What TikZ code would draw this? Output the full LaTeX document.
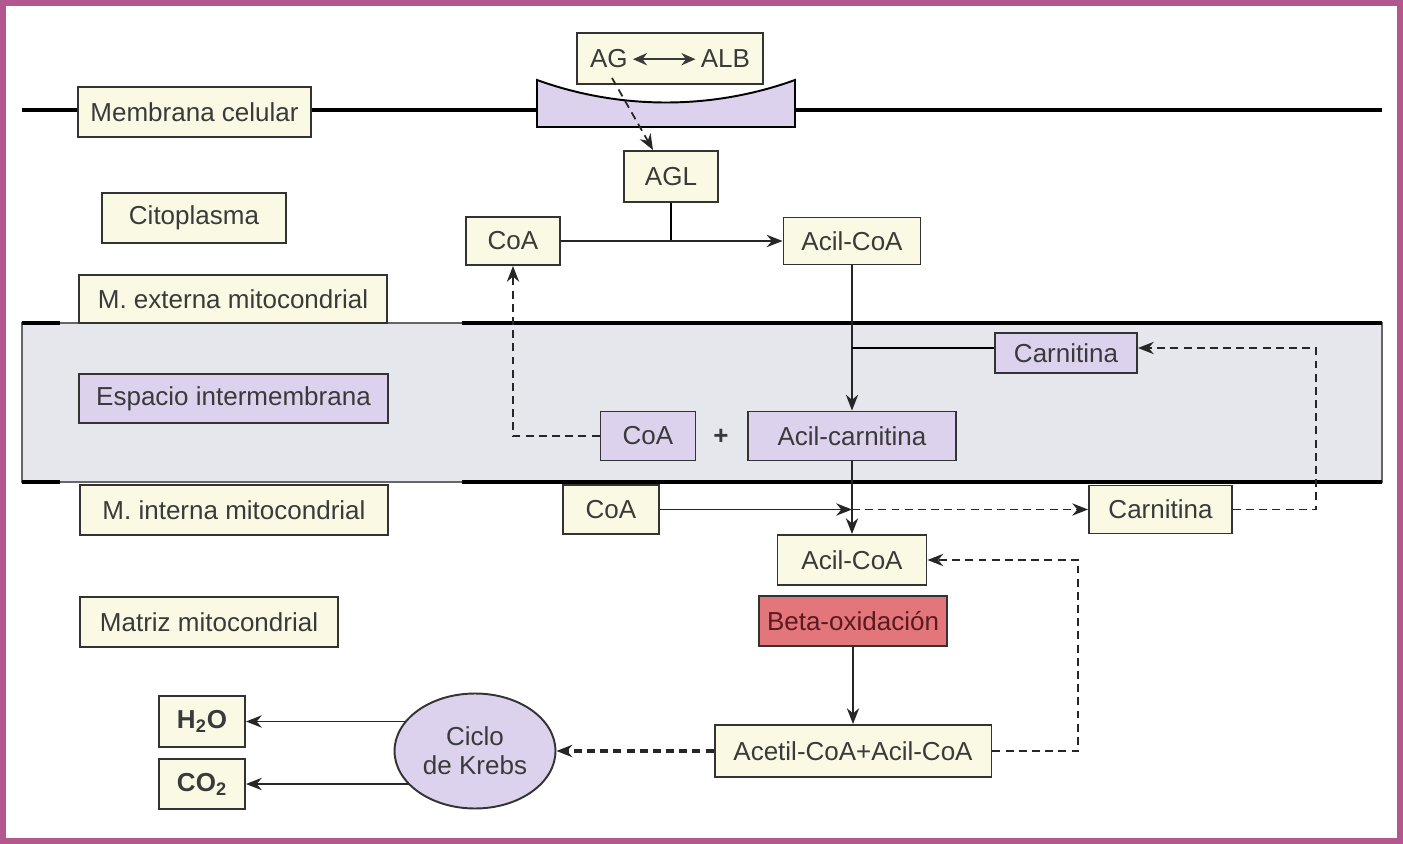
\documentclass[tikz,border=0pt]{standalone}
\usepackage{fontspec}
\setmainfont{Liberation Sans}
\usepackage{tikz}
\usetikzlibrary{calc,arrows.meta,shapes.geometric}
\definecolor{crema}{RGB}{250,250,228}
\definecolor{lila}{RGB}{220,210,238}
\definecolor{banda}{RGB}{229,231,236}
\definecolor{rojizo}{RGB}{226,118,122}
\definecolor{rojooscuro}{RGB}{90,26,32}
\definecolor{marco}{RGB}{178,88,142}
\definecolor{texto}{RGB}{58,58,58}
\tikzset{dim/.style 2 args={minimum width=#1cm,minimum height=#2cm}}
\newcommand{\dobleflecha}{\tikz[baseline=-0.6ex,x=1cm,y=1cm] \draw[line width=1.1pt,{Stealth[length=8pt,width=7pt]}-{Stealth[length=8pt,width=7pt]}] (0,0) -- (1.25,0);}

\begin{document}
\begin{tikzpicture}[x=0.02cm,y=-0.02cm,
	every node/.style={draw=black!80,fill=crema,line width=1.1pt,inner sep=0pt,text=texto,font=\fontsize{14.8}{16}\selectfont},
	caja lila/.style={fill=lila},
	flecha/.style={draw=black!85,line width=1.1pt,-{Stealth[length=9pt,width=7pt]}},
	discont/.style={flecha,dash pattern=on 4.5pt off 3pt}]
	\useasboundingbox (0,0) rectangle (1403,844);
	%frame, membranes and the gray band drawn by hand
	\draw[marco,line width=3pt] (3,3) rectangle (1400,841);
	\draw[line width=2pt] (22,110) -- (1382,110);
	\draw[fill=lila,line width=1.1pt] (537,80) .. controls (620,110) and (712,110) .. (795,80) -- (795,127) -- (537,127) -- cycle;
	\fill[banda] (22,323) rectangle (1382,482);
	\draw[black!60,line width=0.8pt] (22,323) rectangle (1382,482);
	\draw[line width=2pt] (22,323) -- (60,323) (462,323) -- (1382,323) (22,482) -- (60,482) (462,482) -- (1382,482);
	%% compartment labels
	\node[dim={4.66}{1.0}] (memb) at (194.5,112) {Membrana celular};
	\node[dim={3.68}{1.0}] (cito) at (194,218) {Citoplasma};
	\node[dim={6.16}{0.96}] (mext) at (233,299) {M. externa mitocondrial};
	\node[dim={6.18}{0.98},caja lila] (esp) at (233.5,398.5) {Espacio intermembrana};
	\node[dim={6.16}{1.0}] (mint) at (234,510) {M. interna mitocondrial};
	\node[dim={5.16}{1.0}] (matriz) at (209,622) {Matriz mitocondrial};
	%% metabolites
	\node[dim={3.72}{1.02}] (agalb) at (670,58.5) {AG\,\dobleflecha\,ALB};
	\coordinate (ag) at (612,78);
	\node[dim={1.88}{1.02}] (agl) at (671,176.5) {AGL};
	\node[dim={1.88}{0.96}] (coa1) at (513,241) {CoA};
	\node[dim={2.74}{0.94}] (acil1) at (852,241) {Acil-CoA};
	\node[dim={2.84}{0.80},caja lila] (carn1) at (1066,353) {Carnitina};
	\node[dim={1.9}{0.98},caja lila] (coa2) at (648,436) {CoA};
	\node[draw=none,fill=none] (mas) at (721,437) {\textbf{+}};
	\node[dim={4.16}{0.98},caja lila] (acilcarn) at (852,436) {Acil-carnitina};
	\node[dim={1.92}{0.98}] (coa3) at (611,509.5) {CoA};
	\node[dim={2.86}{0.96}] (carn2) at (1160.5,509.5) {Carnitina};
	\node[dim={2.98}{1.0}] (acil2) at (852,560) {Acil-CoA};
	\node[dim={3.76}{1.0},fill=rojizo,text=rojooscuro] (beta) at (853,621) {Beta-oxidación};
	\node[dim={5.54}{1.04}] (acetil) at (853,751) {Acetil-CoA+Acil-CoA};
	\node[ellipse,dim={3.22}{2.3},caja lila,align=center,font=\fontsize{14.8}{16.5}\selectfont] (krebs) at (475,751) {Ciclo\\de Krebs};
	\node[dim={1.72}{1.02}] (h2o) at (202,721.5) {\textbf{H\textsubscript{2}O}};
	\node[dim={1.72}{1.0}] (co2) at (202,784) {\textbf{CO\textsubscript{2}}};
	\coordinate (cruce) at (acil2.north |- coa3.east);
	%% connectors
	\draw[discont,line width=1pt] (ag) -- ([xshift=-0.36cm]agl.north);
	\draw[line width=1.1pt] (agl.south) -- (agl.south |- coa1.east);
	\draw[flecha] (coa1.east) -- (coa1.east -| acil1.west);
	\draw[flecha] (acil1.south) -- (acil1.south |- acilcarn.north);
	\draw[line width=1.1pt] ([yshift=0.1cm]acil1.south |- carn1.west) -- ([yshift=0.1cm]carn1.west);
	\draw[discont] (carn2.east) -- ++(83,0) |- ([yshift=0.1cm]carn1.east);
	\draw[discont] (coa2.west) -| (coa1.south);
	\draw[flecha] (acilcarn.south) -- (acil2.north);
	\draw[flecha] (coa3.east) -- (cruce);
	\draw[discont] (cruce) -- (carn2.west);
	\draw[flecha] (beta.south) -- (acetil.north);
	\draw[discont] (acetil.east) -- ++(86,0) |- (acil2.east);
	\draw[discont,line width=1.8pt] (acetil.west) -- (krebs.east);
	\draw[flecha] (krebs.156 |- h2o.east) -- (h2o.east);
	\draw[flecha] (krebs.207 |- co2.east) -- (co2.east);
\end{tikzpicture}
\end{document}
